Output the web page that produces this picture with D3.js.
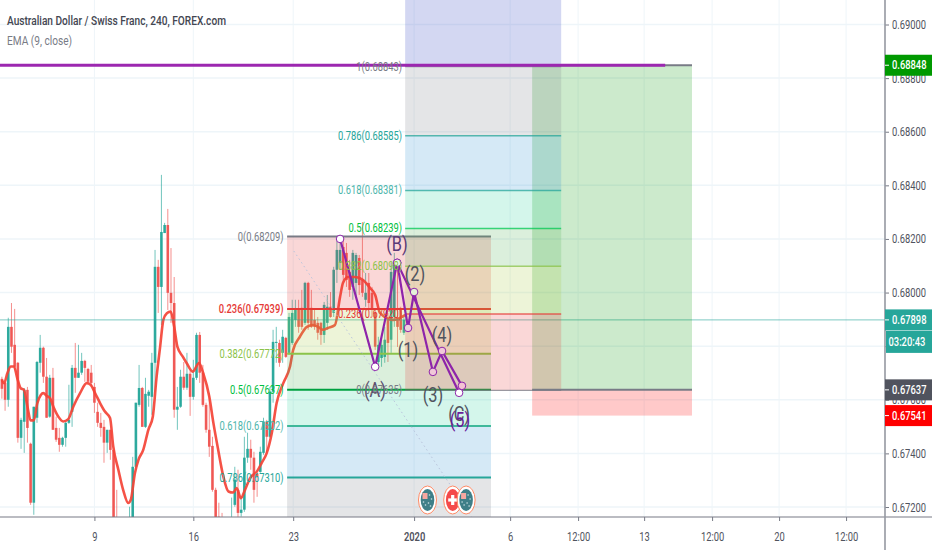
<!DOCTYPE html>
<html><head><meta charset="utf-8">
<script src="https://cdn.jsdelivr.net/npm/d3@7"></script>
<style>html,body{margin:0;padding:0;background:#fff}svg{display:block}text{font-family:Roboto,"Open Sans",sans-serif}</style>
</head><body><svg id="c" width="932" height="550"></svg>
<script>
const titleText="Australian Dollar / Swiss Franc, 240, FOREX.com";
const indicatorText="EMA (9, close)";
const highs=[67686,67667,67906,67961,67939,67741,67533,67644,67648,67440,67574,67745,67842,67798,67756,67693,67719,67537,67495,67462,67518,67656,67730,67812,67805,67775,67749,67719,67730,67663,67589,67551,67525,67488,67488,67413,67264,67133,67115,67115,67201,67387,67589,67730,67648,67682,67637,67775,68159,68122,68439,68260,68312,68166,68058,67648,67712,67741,67775,67712,67749,67850,67853,67730,67589,67626,67462,67272,67216,67178,67152,67152,67235,67350,67339,67238,67462,67477,67451,67406,67328,67425,67533,67525,67648,67861,67872,67824,67861,67835,67924,67973,67973,67973,68010,68040,68040,68010,67935,67909,67891,67965,67991,68002,68096,68208,68185,68204,68185,68122,68159,68148,68140,68263,68073,68073,68021,67935,67835,67835,67872,67924,68111,68148,68096,67947,67909].map(v=>v/1e5);
const lows=[67604,67559,67574,67775,67712,67440,67417,67402,67440,67208,67171,67514,67701,67663,67533,67533,67488,67443,67406,67425,67425,67510,67499,67626,67682,67693,67667,67663,67648,67551,67499,67462,67365,67402,67376,67115,67022,66966,66947,66966,67059,67115,67339,67574,67499,67495,67574,67544,67630,67924,67879,68222,67935,67887,67533,67488,67570,67637,67637,67540,67600,67674,67663,67574,67477,67387,67257,67133,67078,67078,67059,67059,67096,67201,67160,67164,67182,67365,67339,67216,67238,67328,67395,67402,67458,67589,67738,67723,67738,67756,67768,67805,67872,67850,67861,67879,67861,67868,67861,67824,67805,67812,67861,67906,67909,68036,68085,68047,68021,67984,67973,67984,67991,67984,67947,67935,67909,67786,67730,67723,67738,67741,67775,67872,67797,67850,67842].map(v=>v/1e5);
const opens=[67678,67664,67600,67872,67805,67738,67458,67518,67637,67436,67216,67533,67738,67794,67686,67537,67682,67495,67458,67432,67458,67514,67555,67719,67682,67701,67745,67715,67701,67648,67555,67514,67499,67440,67488,67413,67141,67115,67096,67078,67078,67133,67350,67581,67644,67499,67615,67611,67738,68096,68021,68222,68252,67999,67961,67563,67574,67686,67645,67697,67611,67682,67842,67701,67581,67488,67428,67264,67164,67152,67133,67078,67115,67208,67264,67178,67190,67384,67417,67384,67324,67331,67402,67518,67462,67630,67812,67812,67775,67831,67775,67812,67898,67935,67943,67887,68036,67943,67898,67887,67887,67842,67887,67947,67924,68085,68111,68170,68148,68077,68021,68036,68129,68047,67973,68036,67999,67924,67741,67756,67760,67898,67824,67909,67898,67935,67850].map(v=>v/1e5);
const closes=[67641,67600,67872,67798,67723,67458,67525,67637,67495,67216,67574,67741,67794,67686,67533,67682,67488,67451,67432,67458,67514,67525,67719,67682,67701,67745,67719,67667,67663,67589,67514,67495,67440,67488,67413,67141,67059,67003,66984,67003,67133,67350,67589,67644,67499,67622,67630,67738,68096,68021,68226,68252,67999,67961,67563,67574,67686,67645,67697,67611,67682,67842,67701,67581,67488,67425,67264,67152,67115,67096,67078,67133,67160,67302,67178,67190,67384,67417,67384,67264,67313,67406,67518,67462,67630,67816,67816,67738,67835,67760,67909,67924,67935,67872,67872,68036,67887,67872,67872,67850,67842,67954,67947,67909,68085,68159,68159,68066,68047,68010,68148,68140,68028,67999,67999,67961,67935,67798,67805,67805,67824,67812,68077,68111,67872,67861,67898].map(v=>v/1e5);
const emaBars=[0,.7,1.7,2.8,3.8,4.8,5.9,6.9,8,9,10,11.1,12.2,13,14,15.1,16.1,17.7,19.2,20.8,22.4,24.5,26.6,27.8,29.2,30.8,32.3,33.9,34.9,36.5,38,39.6,40.4,41.7,42.8,44.3,45.9,47.3,48.5,49.6,50.6,51.7,52.9,54,55,56.7,57.9,59.8,61.8,63.1,65,66.3,67.8,69.4,71,72.5,73.6,74.9,76.2,77.8,79.9,81.4,83,84.6,86.1,88.2,90.3,91.3,93.4,95.6,97.5,99.1,100.7,102.2,104.4,106,106.9,108.5,110.7,113.2,115.4,117,118.5,122.6,126.5];
const emaValues=[67674,67662,67699,67724,67724,67681,67643,67637,67575,67523,67523,67587,67618,67625,67615,67606,67575,67537,67519,67528,67575,67625,67662,67656,67625,67587,67556,67532,67426,67339,67264,67215,67227,67327,67376,67413,67488,67537,67687,67798,67898,67923,67929,67873,67798,67761,67737,67705,67737,67699,67612,67513,67413,67314,67258,67254,67271,67233,67264,67308,67332,67364,67401,67476,67587,67662,67724,67786,67835,67872,67879,67872,67861,67868,67879,67984,68036,68058,68058,68047,68017,67991,67924,67898,67917].map(v=>v/1e5);
const priceTicks=[0.69,0.688,0.686,0.684,0.682,0.68,0.678,0.676,0.674,0.672];
const hiddenPriceLabel=0.678;
const timeTickBars=[29,60,91.3,129.2,159.3,180.6,201.3,222.6,243.6,264.6];
const timeTickLabels=["9","16","23","2020","6","12:00","13","12:00","20","12:00"];
const fibA={from:89.4,to:153.3,prices:[.68209,.67939,.67772,.67637,.67502,.6731,.67065],names:["0(0.68209)","0.236(0.67939)","0.382(0.67772)","0.5(0.67637)","0.618(0.67502)","0.786(0.67310)",""]};
const fibB={from:126.4,to:175.3,prices:[.67635,.6792,.68098,.68239,.68381,.68585,.68843],names:["0(0.67635)","0.236(0.67920)","0.382(0.68098)","0.5(0.68239)","0.618(0.68381)","0.786(0.68585)","1(0.68843)"],top:.69272};
const longBox={from:166.2,to:216.3,target:.68848,entry:.67637,stop:.67541};
const lastPrice=.67898;
const topLine={to:207.9,price:.68848};
const abcBars=[106,117,123.9,143.3],abcPrices=[.682,.67723,.68111,.67626];
const waveBars=[123.9,127.3,129.2,135.1,137.96,144.2],wavePrices=[.68111,.67868,.68002,.67704,.67782,.67652];
const dashedBars=[91.5,147.7],dashedPrices=[.68155,.67155];
const axisBadges=[["0.68848",.68848,"#009900"],["0.67898",.67898,"#26a69a"],["0.67637",.67637,"#50535e"],["0.67541",.67541,"#ff0000"]];
const countdown="03:20:43";
const eventBars=[133.4,141.3,145.5],eventKinds=["AU","CH","AU"];

const W=885,H=517,SX=.78;
const svg=d3.select("#c");
const x=d3.scaleLinear().domain([0,276.8]).range([1.9,885]);
const y=d3.scaleLinear().domain([.672,.69]).range([507,24.5]);
svg.append("defs").append("clipPath").attr("id","plot").append("rect").attr("width",W).attr("height",H);
const plot=svg.append("g").attr("clip-path","url(#plot)");
function label(g,str,px,py,size,anchor,fill,weight){
  return g.append("text").text(str).style("font-size",size+"px").attr("text-anchor",anchor).attr("fill",fill).style("font-weight",weight||400)
    .attr("transform",`translate(${px},${py}) scale(${SX},1)`);
}
// grid
plot.append("g").selectAll("line").data(timeTickBars).join("line").attr("x1",d=>x(d)).attr("x2",d=>x(d)).attr("y1",0).attr("y2",H).attr("stroke","#eef5f9");
plot.append("g").selectAll("line").data(priceTicks).join("line").attr("y1",d=>y(d)).attr("y2",d=>y(d)).attr("x1",0).attr("x2",W).attr("stroke","#eef5f9").attr("stroke-width",1.5);
// candles
const idx=d3.range(opens.length);
const col=i=>closes[i]>=opens[i]?"#26a69a":"#ef5350";
plot.append("g").selectAll("line").data(idx).join("line").attr("x1",i=>x(i)).attr("x2",i=>x(i)).attr("y1",i=>y(highs[i])).attr("y2",i=>y(lows[i])).attr("stroke",col).attr("stroke-opacity",.65);
plot.append("g").selectAll("rect").data(idx).join("rect").attr("x",i=>x(i)-1.3).attr("width",2.6).attr("y",i=>y(Math.max(opens[i],closes[i]))).attr("height",i=>Math.max(1,Math.abs(y(opens[i])-y(closes[i])))).attr("fill",col).attr("fill-opacity",.95);
// EMA
plot.append("path").attr("d",d3.line().x((d,i)=>x(emaBars[i])).y(d=>y(d)).curve(d3.curveMonotoneX)(emaValues)).attr("fill","none").attr("stroke","#f44336").attr("stroke-width",2.6).attr("stroke-opacity",.92);
// price line
plot.append("line").attr("x1",0).attr("x2",W).attr("y1",y(lastPrice)).attr("y2",y(lastPrice)).attr("stroke","#26a69a").attr("stroke-opacity",.6);
// long position box
plot.append("rect").attr("x",x(longBox.from)).attr("width",x(longBox.to)-x(longBox.from)).attr("y",y(longBox.target)).attr("height",y(longBox.entry)-y(longBox.target)).attr("fill","rgb(0,150,0)").attr("fill-opacity",.2);
plot.append("rect").attr("x",x(longBox.from)).attr("width",x(longBox.to)-x(longBox.from)).attr("y",y(longBox.entry)).attr("height",y(longBox.stop)-y(longBox.entry)).attr("fill","rgb(255,0,0)").attr("fill-opacity",.21);
// fib fills and lines
const fills=["#e53935","#a5c93a","#4caf50","#00c98a","#2b8fd0","#787b86"];
const fillAlpha=[.2,.2,.2,.17,.2,.2];
const fibLines=["#787b86","#e53935","#8bc34a","#00a040","#3fb89a","#26a69a","#787b86"];
const fibLabels=["#787b86","#e53935","#8bc34a","#00c040","#4db6ac","#26a69a","#787b86"];
fills.forEach((c,i)=>{const a=fibA.prices[i],b=fibA.prices[i+1];
  plot.append("rect").attr("x",x(fibA.from)).attr("width",x(fibA.to)-x(fibA.from)).attr("y",y(a)).attr("height",y(b)-y(a)).attr("fill",c).attr("fill-opacity",fillAlpha[i]);
});
fibA.prices.slice(0,6).forEach((p,i)=>plot.append("line").attr("x1",x(fibA.from)).attr("x2",x(fibA.to)).attr("y1",y(p)).attr("y2",y(p)).attr("stroke",fibLines[i]).attr("stroke-width",2));
fills.forEach((c,i)=>{const b=fibB.prices[i],a=fibB.prices[i+1];
  plot.append("rect").attr("x",x(fibB.from)).attr("width",x(fibB.to)-x(fibB.from)).attr("y",y(a)).attr("height",y(b)-y(a)).attr("fill",c).attr("fill-opacity",fillAlpha[i]);
});
plot.append("rect").attr("x",x(fibB.from)).attr("width",x(fibB.to)-x(fibB.from)).attr("y",y(fibB.top)).attr("height",y(fibB.prices[6])-y(fibB.top)).attr("fill","#3f51c5").attr("fill-opacity",.23);
const fibBLines=["#787b86","#e53935","#8bc34a","#00c853","#26a69a","#26a69a","#787b86"];
fibB.prices.forEach((p,i)=>plot.append("line").attr("x1",x(fibB.from)).attr("x2",x(fibB.to)).attr("y1",y(p)).attr("y2",y(p)).attr("stroke",fibBLines[i]).attr("stroke-width",1.4).attr("stroke-opacity",.75));
// top / entry lines
plot.append("line").attr("x1",x(longBox.from)).attr("x2",x(longBox.to)).attr("y1",y(longBox.target)).attr("y2",y(longBox.target)).attr("stroke","#787b86").attr("stroke-width",2);
plot.append("line").attr("x1",x(longBox.from)).attr("x2",x(longBox.to)).attr("y1",y(longBox.entry)).attr("y2",y(longBox.entry)).attr("stroke","#787b86").attr("stroke-width",2);
plot.append("line").attr("x1",0).attr("x2",x(topLine.to)).attr("y1",y(topLine.price)).attr("y2",y(topLine.price)).attr("stroke","#9c27b0").attr("stroke-width",3);
// dashed diagonal
plot.append("line").attr("x1",x(dashedBars[0])).attr("x2",x(dashedBars[1])).attr("y1",y(dashedPrices[0])).attr("y2",y(dashedPrices[1])).attr("stroke","#b9c4dc").attr("stroke-dasharray","1.5 3");
// waves
const pl=d3.line().x(d=>x(d[0])).y(d=>y(d[1]));
plot.append("path").attr("d",pl(d3.zip(abcBars,abcPrices))).attr("fill","none").attr("stroke","#8e24aa").attr("stroke-width",2.2);
plot.append("path").attr("d",pl(d3.zip(waveBars,wavePrices))).attr("fill","none").attr("stroke","#8e24aa").attr("stroke-width",2.2);
const dots=plot.append("g");
const waveFill=["#f2e6ee","#eed0dc","#e3f2d8","#f0c8d8","#f0c8d8","#f3c3d3"];
waveBars.forEach((b,i)=>dots.append("circle").attr("cx",x(b)).attr("cy",y(wavePrices[i])).attr("r",3.8).attr("fill",waveFill[i]).attr("stroke","#8e24aa"));
abcBars.forEach((b,i)=>dots.append("circle").attr("cx",x(b)).attr("cy",y(abcPrices[i])).attr("r",3.8).attr("fill",i==2?"#eef7ee":"#fff").attr("stroke","#8e24aa"));
// event markers
const ev=plot.append("g");
eventBars.forEach((b,i)=>{const g=ev.append("g").attr("transform",`translate(${x(b)},500)`);
  g.append("ellipse").attr("rx",9).attr("ry",14).attr("fill","#fff").attr("stroke","#ff8a65");
  if(eventKinds[i]=="CH"){
    g.append("ellipse").attr("rx",6.8).attr("ry",11).attr("fill","#f44a4a");
    g.append("rect").attr("x",-4.5).attr("y",-1.6).attr("width",9).attr("height",3.2).attr("fill","#fff");
    g.append("rect").attr("x",-1.6).attr("y",-5).attr("width",3.2).attr("height",10).attr("fill","#fff");
  }else{
    g.append("ellipse").attr("rx",6.8).attr("ry",11).attr("fill","#3f7f88");
    g.append("rect").attr("x",-5).attr("y",-7).attr("width",5).attr("height",6).attr("fill","#f7a7a0");
    [[2,-5],[4,-1],[1,3],[-2,5],[3,6],[-4,2]].forEach(q=>g.append("circle").attr("cx",q[0]).attr("cy",q[1]).attr("r",.8).attr("fill","#cfe3e6"));
  }
});
// wave labels
const tl=svg.append("g");
[["(A)",375,397,"#5d4f6e"],["(B)",397,251,"#5b3a78"],["(1)",408,357,"#50535e"],["(2)",415,281,"#50535e"],["(3)",433,402,"#50535e"],["(4)",442,342,"#50535e"],["(C)",459,421,"#50535e"],["(5)",460,427,"#6a1b9a"]]
 .forEach(d=>label(tl,d[0],d[1],d[2],21,"middle",d[3]));
// fib labels
fibA.names.slice(0,6).forEach((n,i)=>label(tl,n,283.5,y(fibA.prices[i])+4,12,"end",fibLabels[i],i==1?500:400));
fibB.names.forEach((n,i)=>label(tl,n,402,y(fibB.prices[i])+4,12,"end",fibLabels[i]));
// axes
const yAxis=svg.append("g").attr("transform",`translate(${W},0)`).call(d3.axisRight(y).tickValues(priceTicks).tickFormat(d=>d===hiddenPriceLabel?"":d3.format(".5f")(d)).tickSize(4).tickPadding(3));
const xAxis=svg.append("g").attr("transform",`translate(0,${H})`).call(d3.axisBottom(x).tickValues(timeTickBars).tickFormat((d,i)=>timeTickLabels[i]).tickSize(4).tickPadding(12));
yAxis.select(".domain").remove();xAxis.select(".domain").remove();
yAxis.selectAll("line").attr("stroke","#787b86");xAxis.selectAll("line").attr("stroke","#787b86");
yAxis.selectAll("text").attr("dy",null).attr("x",null).style("font-size","12px").attr("fill","#50535e").attr("text-anchor","start").attr("transform",`translate(7,4) scale(${SX},1)`);
xAxis.selectAll("text").attr("dy",null).attr("y",null).style("font-size","12px").attr("fill","#50535e").attr("text-anchor","middle").attr("transform",`translate(0,24) scale(${SX},1)`)
  .style("font-weight",(d,i)=>timeTickLabels[i]==="2020"?600:400);
svg.append("line").attr("x1",0).attr("x2",932).attr("y1",H).attr("y2",H).attr("stroke","#787b86").attr("stroke-width",1.2);
svg.append("line").attr("x1",W).attr("x2",W).attr("y1",0).attr("y2",550).attr("stroke","#9598a1").attr("stroke-width",1.6);
// badges
axisBadges.forEach(d=>{const cy=y(d[1]);
  svg.append("rect").attr("x",W).attr("width",47).attr("y",cy-10.5).attr("height",21).attr("fill",d[2]);
  svg.append("line").attr("x1",W).attr("x2",W+4).attr("y1",cy).attr("y2",cy).attr("stroke","#fff");
  label(svg,d[0],W+7,cy+4,12,"start","#fff",500);
});
svg.append("rect").attr("x",W+1).attr("width",46).attr("y",y(lastPrice)+11).attr("height",22).attr("fill","#26a69a");
label(svg,countdown,W+3.5,y(lastPrice)+26,12,"start","#fff",500);
// title
label(svg,titleText,7,25,13,"start","#434651",500);
label(svg,indicatorText,7,45,13,"start","#787b86",400);
</script></body></html>
